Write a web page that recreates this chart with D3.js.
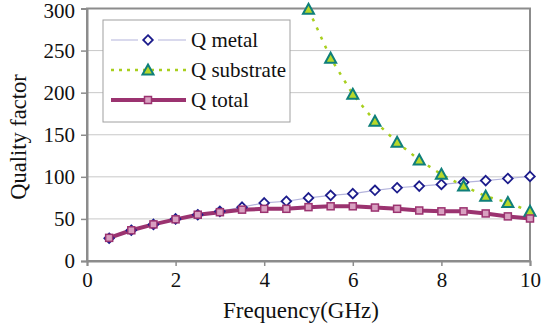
<!DOCTYPE html>
<html><head><meta charset="utf-8">
<script src="https://cdn.jsdelivr.net/npm/d3@7"></script>
<style>html,body{margin:0;padding:0;background:#fff}svg{display:block}
svg text{font-family:"Liberation Serif","Times New Roman",serif;fill:#111}</style>
</head><body>
<svg id="c" width="544" height="328"></svg>
<script>
const freqs = [0.5,1,1.5,2,2.5,3,3.5,4,4.5,5,5.5,6,6.5,7,7.5,8,8.5,9,9.5,10];
const qMetal = [27,36.5,43.5,50,55,59,64,69,71,75,78,80,84,87,89,91,93.5,95.5,98,100.5];
const subFreqs = [5,5.5,6,6.5,7,7.5,8,8.5,9,9.5,10];
const qSubstrate = [299,241,198,166,141,120,103,89,77,69.5,59];
const qTotal = [27.5,36.5,43.5,49.5,55,58,61,62,62,64,65,65,63.5,62,60,59,59,56.5,53,50.5];
const xTicks = [0,2,4,6,8,10];
const yTicks = [0,50,100,150,200,250,300];
const legendLabels = ["Q metal","Q substrate","Q total"];

const svg = d3.select("#c");
const L=87,R=530,T=8.5,B=261;
const x = d3.scaleLinear().domain([0,10]).range([L,R]);
const y = d3.scaleLinear().domain([0,300]).range([B,T]);
const FF = "Liberation Serif, Times New Roman, serif";

// gridlines
svg.append("g").selectAll("line").data(yTicks.filter(d=>d>0&&d<300)).join("line")
  .attr("x1",L).attr("x2",R).attr("y1",d=>y(d)).attr("y2",d=>y(d))
  .attr("stroke","#c8c8c8").attr("stroke-width",1);

// frame
svg.append("rect").attr("x",L).attr("y",T).attr("width",R-L).attr("height",B-T)
  .attr("fill","none").attr("stroke","#8c8c8c").attr("stroke-width",2);

// axes
const yAx = svg.append("g").attr("transform",`translate(${L},0)`)
  .call(d3.axisLeft(y).tickValues(yTicks).tickSize(6).tickPadding(6));
const xAx = svg.append("g").attr("transform",`translate(0,${B})`)
  .call(d3.axisBottom(x).tickValues(xTicks).tickSize(5).tickPadding(6));
[yAx,xAx].forEach(g=>{
  g.attr("font-family",FF).attr("font-size",21);
  g.select(".domain").attr("stroke","#8c8c8c").attr("stroke-width",2);
  g.selectAll(".tick line").attr("stroke","#8c8c8c").attr("stroke-width",1.5);
  g.selectAll("text").attr("fill","#111");
});
// keep the top label inside the picture, as in the reference
yAx.selectAll(".tick text").filter(d=>d===300).attr("dy","0.45em");

// lines
const lineM = d3.line().x((d,i)=>x(freqs[i])).y(d=>y(d));
const lineS = d3.line().x((d,i)=>x(subFreqs[i])).y(d=>y(d));

svg.append("path").datum(qMetal).attr("d",lineM).attr("fill","none")
  .attr("stroke","#b4b4dc").attr("stroke-width",1.2);
svg.append("path").datum(qSubstrate).attr("d",lineS).attr("fill","none")
  .attr("stroke","#a8cf1e").attr("stroke-width",2.5).attr("stroke-dasharray","3,7");
svg.append("path").datum(qTotal).attr("d",lineM).attr("fill","none")
  .attr("stroke","#9b3370").attr("stroke-width",4);

function diamond(g,cx,cy){
  g.append("path").attr("d",`M${cx},${cy-4.8}L${cx+4.8},${cy}L${cx},${cy+4.8}L${cx-4.8},${cy}Z`)
   .attr("fill","#fff").attr("stroke","#1c1c8c").attr("stroke-width",1.8);
}
function tri(g,cx,cy){
  g.append("path").attr("d",`M${cx},${cy-5.5}L${cx+5.5},${cy+4.5}L${cx-5.5},${cy+4.5}Z`)
   .attr("fill","#b8d82a").attr("stroke","#0f7f7a").attr("stroke-width",2);
}
function sq(g,cx,cy){
  g.append("rect").attr("x",cx-3.5).attr("y",cy-3.5).attr("width",7).attr("height",7)
   .attr("fill","#d8a0c0").attr("stroke","#9b3370").attr("stroke-width",1.5);
}
const gm = svg.append("g");
qMetal.forEach((d,i)=>diamond(gm,x(freqs[i]),y(d)));
const gs = svg.append("g");
qSubstrate.forEach((d,i)=>tri(gs,x(subFreqs[i]),y(d)));
const gt = svg.append("g");
qTotal.forEach((d,i)=>sq(gt,x(freqs[i]),y(d)));

// legend
const lg = svg.append("g");
lg.append("rect").attr("x",103).attr("y",20).attr("width",187).attr("height",102)
  .attr("fill","#fff").attr("stroke","#a0a0a0").attr("stroke-width",1);
const ly=[40,70,100];
lg.append("line").attr("x1",111).attr("x2",186).attr("y1",ly[0]).attr("y2",ly[0])
  .attr("stroke","#b4b4dc").attr("stroke-width",1.2);
lg.append("rect").attr("x",138).attr("y",ly[0]-6).attr("width",20).attr("height",12).attr("fill","#fff");
diamond(lg,148,ly[0]);
lg.append("line").attr("x1",111).attr("x2",186).attr("y1",ly[1]).attr("y2",ly[1])
  .attr("stroke","#a8cf1e").attr("stroke-width",2.5).attr("stroke-dasharray","3,5");
tri(lg,148,ly[1]);
lg.append("line").attr("x1",111).attr("x2",186).attr("y1",ly[2]).attr("y2",ly[2])
  .attr("stroke","#9b3370").attr("stroke-width",4);
sq(lg,148,ly[2]);
lg.selectAll("text.l").data(legendLabels).join("text")
  .attr("x",191).attr("y",(d,i)=>ly[i]+7).text(d=>d)
  .attr("font-family",FF).attr("font-size",21);

// titles
svg.append("text").attr("x",301).attr("y",318).attr("text-anchor","middle")
  .attr("font-family",FF).attr("font-size",23).text("Frequency(GHz)");
svg.append("text").attr("transform","translate(26,137) rotate(-90)").attr("text-anchor","middle")
  .attr("font-family",FF).attr("font-size",22.5).text("Quality factor");
</script>
</body></html>
